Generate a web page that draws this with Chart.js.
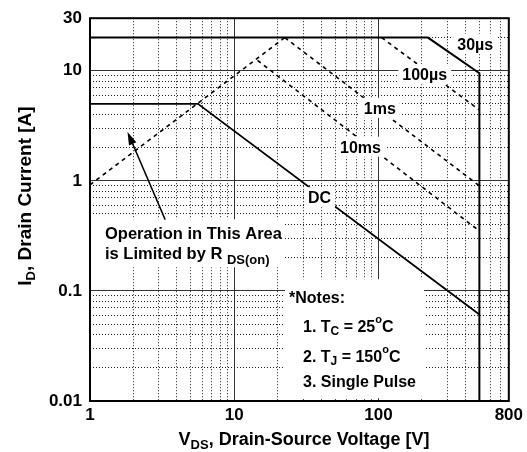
<!DOCTYPE html>
<html>
<head>
<meta charset="utf-8">
<script src="https://cdn.jsdelivr.net/npm/chart.js@4.4.1/dist/chart.umd.min.js"></script>
<style>
  html, body { margin: 0; padding: 0; background: #fff; }
</style>
</head>
<body>
<canvas id="soa" width="527" height="452"></canvas>
<script>
// Safe operating area curves (V_DS in volts, I_D in amps)
const limitV = [1, 220, 500, 500];       // I_DM limit, 30us pulse, BV_DSS
const limitI = [20, 20, 9.5, 0.01];
const dcV = [1, 5.6, 500];
const dcI = [5, 5, 0.061];
const rdsV = [1, 22.4];
const rdsI = [0.92, 20];
const p100usV = [105, 500];
const p100usI = [20, 4.4];
const p1msV = [22.4, 500];
const p1msI = [20, 0.9];
const p10msV = [14.5, 500];
const p10msI = [12.4, 0.35];

const xTickLabels = [1, 10, 100, 800];
const yTickLabels = [0.01, 0.1, 1, 10, 30];

// curve labels: text, V, I
const curveLabels = [
  ["30\u00b5s", 468, 17.6],
  ["100\u00b5s", 209, 9.3],
  ["1ms", 102, 4.6],
  ["10ms", 75, 2.04],
  ["DC", 39, 0.71],
];

const FONT = '"Liberation Sans", Arial, Helvetica, sans-serif';

// grid positions: 1-9 in every decade
function decadeSteps(from, to, max) {
  const out = [];
  for (let d = from; d <= to; d *= 10) {
    for (let k = 1; k <= 9; k++) {
      const v = +(k * d).toPrecision(6);
      if (v <= max) out.push(v);
    }
  }
  return out;
}
const xGrid = decadeSteps(1, 100, 800);
const yGrid = decadeSteps(0.01, 10, 30);

const zip = (xs, ys) => xs.map((v, i) => ({ x: v, y: ys[i] }));
const near = (list, v) => list.find(t => Math.abs(t - v) / t < 1e-6);
const isDecade = v => Math.abs(Math.log10(v) - Math.round(Math.log10(v))) < 1e-6;

function gridOpts(min, max) {
  return {
    drawTicks: false,
    tickLength: 0,
    lineWidth: 1,
    color: c => {
      const v = c.tick && c.tick.value;
      if (v === min || v === max) return 'rgba(0,0,0,0)';
      return isDecade(v) ? '#333' : '#222';
    }
  };
}
function borderOpts() {
  return {
    display: false,
    dash: c => (c.tick && isDecade(c.tick.value)) ? [] : [1, 2]
  };
}

function rich(ctx, parts, x, y, align) {
  // parts: [text, size, dy]
  let w = 0;
  parts.forEach(p => { ctx.font = 'bold ' + p[1] + 'px ' + FONT; w += ctx.measureText(p[0]).width; });
  let cx = align === 'center' ? x - w / 2 : x;
  ctx.textAlign = 'left';
  ctx.textBaseline = 'alphabetic';
  parts.forEach(p => {
    ctx.font = 'bold ' + p[1] + 'px ' + FONT;
    ctx.fillText(p[0], cx, y + p[2]);
    cx += ctx.measureText(p[0]).width;
  });
  return w;
}

const soaDecor = {
  id: 'soaDecor',
  afterDatasetsDraw(chart) {
    const { ctx, chartArea: ca, scales: { x, y } } = chart;
    ctx.save();
    ctx.fillStyle = '#fff';

    // white backing for the annotation blocks
    ctx.fillRect(ca.left + 3, ca.top + 201, 190, 48);
    ctx.fillRect(ca.left + 195, ca.top + 261, 139, 119);

    ctx.font = 'bold 16px ' + FONT;
    curveLabels.forEach(([t, v, i]) => {
      const w = ctx.measureText(t).width;
      const px = x.getPixelForValue(v), py = y.getPixelForValue(i);
      ctx.fillRect(px - w / 2 - 4, py - 10, w + 8, 20);
    });

    ctx.fillStyle = '#000';
    curveLabels.forEach(([t, v, i]) => {
      rich(ctx, [[t, 16, 0]], x.getPixelForValue(v), y.getPixelForValue(i) + 6, 'center');
    });

    // R_DS(on) annotation
    const ox = ca.left + 15, oy = ca.top + 221;
    rich(ctx, [["Operation in This Area", 16.5, 0]], ox, oy, 'left');
    rich(ctx, [["is Limited by R ", 16.5, 0], ["DS(on)", 13, 5]], ox, oy + 20, 'left');

    // arrow
    const ax0 = x.getPixelForValue(3.32), ay0 = y.getPixelForValue(0.444);
    const ax1 = x.getPixelForValue(1.82), ay1 = y.getPixelForValue(2.78);
    const ang = Math.atan2(ay1 - ay0, ax1 - ax0);
    ctx.strokeStyle = '#000';
    ctx.lineWidth = 1.5;
    ctx.beginPath();
    ctx.moveTo(ax0, ay0);
    ctx.lineTo(ax1 - 8 * Math.cos(ang), ay1 - 8 * Math.sin(ang));
    ctx.stroke();
    ctx.beginPath();
    ctx.moveTo(ax1, ay1);
    ctx.lineTo(ax1 - 13 * Math.cos(ang) + 4 * Math.sin(ang), ay1 - 13 * Math.sin(ang) - 4 * Math.cos(ang));
    ctx.lineTo(ax1 - 13 * Math.cos(ang) - 4 * Math.sin(ang), ay1 - 13 * Math.sin(ang) + 4 * Math.cos(ang));
    ctx.closePath();
    ctx.fill();

    // notes
    const nx = ca.left + 199, ny = ca.top + 285;
    rich(ctx, [["*Notes:", 16, 0]], nx, ny, 'left');
    rich(ctx, [["1. T", 16, 0], ["C", 12, 3], [" = 25", 16, 0], ["o", 11, -9], ["C", 16, 0]], nx + 14, ny + 29, 'left');
    rich(ctx, [["2. T", 16, 0], ["J", 12, 3], [" = 150", 16, 0], ["o", 11, -9], ["C", 16, 0]], nx + 14, ny + 59, 'left');
    rich(ctx, [["3. Single Pulse", 16, 0]], nx + 14, ny + 84, 'left');

    // plot frame
    ctx.lineWidth = 2;
    ctx.strokeRect(ca.left, ca.top, ca.right - ca.left, ca.bottom - ca.top);

    // axis titles
    rich(ctx, [["V", 18, 0], ["DS", 13, 4], [", Drain-Source Voltage [V]", 18, 0]], 304, 445, 'center');
    ctx.translate(31, 196);
    ctx.rotate(-Math.PI / 2);
    rich(ctx, [["I", 19, 0], ["D", 13, 4], [", Drain Current [A]", 19, 0]], 0, 0, 'center');
    ctx.restore();
  }
};

const solid = { borderColor: '#000', pointRadius: 0, tension: 0, fill: false };
const dashed = { borderColor: '#000', pointRadius: 0, tension: 0, fill: false, borderWidth: 1.6, borderDash: [4, 4] };

new Chart(document.getElementById('soa'), {
  type: 'line',
  data: {
    datasets: [
      { ...solid, label: 'Limit', data: zip(limitV, limitI), borderWidth: 2 },
      { ...solid, label: 'DC', data: zip(dcV, dcI), borderWidth: 1.8 },
      { ...dashed, label: 'RDS(on)', data: zip(rdsV, rdsI) },
      { ...dashed, label: '100us', data: zip(p100usV, p100usI) },
      { ...dashed, label: '1ms', data: zip(p1msV, p1msI) },
      { ...dashed, label: '10ms', data: zip(p10msV, p10msI) },
    ]
  },
  options: {
    responsive: false,
    animation: false,
    layout: { padding: { top: 17, right: 14, left: 0, bottom: 0 } },
    plugins: { legend: { display: false }, tooltip: { enabled: false } },
    scales: {
      x: {
        type: 'logarithmic',
        min: 1, max: 800,
        afterBuildTicks: s => { s.ticks = xGrid.map(v => ({ value: v })); },
        afterFit: s => { s.height = 51; },
        ticks: {
          autoSkip: false, maxRotation: 0, padding: 4, color: '#000',
          font: { family: FONT, size: 17, weight: 'bold' },
          callback: v => { const t = near(xTickLabels, v); return t ? String(t) : ''; }
        },
        grid: gridOpts(1, 800),
        border: borderOpts()
      },
      y: {
        type: 'logarithmic',
        min: 0.01, max: 30,
        afterBuildTicks: s => { s.ticks = yGrid.map(v => ({ value: v })); },
        afterFit: s => { s.width = 90; },
        ticks: {
          autoSkip: false, padding: 8, color: '#000',
          font: { family: FONT, size: 17, weight: 'bold' },
          callback: v => { const t = near(yTickLabels, v); return t ? String(t) : ''; }
        },
        grid: gridOpts(0.01, 30),
        border: borderOpts()
      }
    }
  },
  plugins: [soaDecor]
});
</script>
</body>
</html>
